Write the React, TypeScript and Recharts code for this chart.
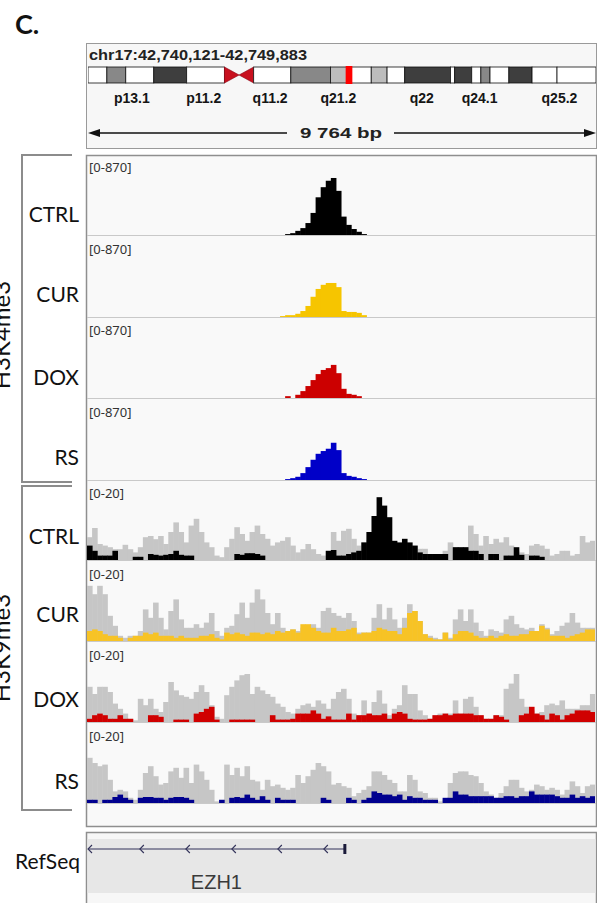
import React from 'react';
import { BarChart, Bar, XAxis, YAxis } from 'recharts';

// ---- locus ----
const locusLabel = 'chr17:42,740,121-42,749,883';
const regionStart = 42740121;
const regionEnd = 42749883;
const spanLabel = '9 764 bp';

// ---- chr17 ideogram (band sizes in Mb) ----
const bandSizes = [3.1, 3.1, 4.6, 5.4, 6.2, 2.4, 2.4, 6.1, 6.5, 2.8, 3.9, 2.6, 2.9, 7.5, 0.7, 2.8, 1.5, 1.5, 3.1, 3.8, 4.1, 6.4];
const bandStains = ['gneg', 'gpos50', 'gneg', 'gpos75', 'gneg', 'acenP', 'acenQ', 'gneg', 'gpos50', 'gpos25', 'gneg', 'gpos25', 'gneg', 'gpos75', 'gneg', 'gpos75', 'gneg', 'gpos50', 'gneg', 'gpos75', 'gneg', 'gneg'];
const bandLabels = ['p13.1', 'p11.2', 'q11.2', 'q21.2', 'q22', 'q24.1', 'q25.2'];
const bandLabelMb = [7.2, 19.0, 29.9, 41.1, 54.8, 64.3, 77.4];
const markerMb = [42.3, 43.4];

// ---- gene ----
const geneName = 'EZH1';
const geneStart = 42700275;
const geneEnd = 42745076;

// ---- track labels ----
const samples = ['CTRL', 'CUR', 'DOX', 'RS'];
const marks = ['H3K4me3', 'H3K9me3'];
const k4Range = '[0-870]';
const k9Range = '[0-20]';

// ---- H3K4me3 coverage, 100 bins across the window ----
const k4Ctrl = [
  0, 0, 0, 0, 0, 0, 0, 0, 0, 0,
  0, 0, 0, 0, 0, 0, 0, 0, 0, 0,
  0, 0, 0, 0, 0, 0, 0, 0, 0, 0,
  0, 0, 0, 0, 0, 0, 0, 0, 0, 10,
  20, 45, 75, 130, 240, 410, 520, 590, 620, 480,
  200, 110, 65, 35, 10, 0, 0, 0, 0, 0,
  0, 0, 0, 0, 0, 0, 0, 0, 0, 0,
  0, 0, 0, 0, 0, 0, 0, 0, 0, 0,
  0, 0, 0, 0, 0, 0, 0, 0, 0, 0,
  0, 0, 0, 0, 0, 0, 0, 0, 0, 0,
];
const k4Cur = [
  0, 0, 0, 0, 0, 0, 0, 0, 0, 0,
  0, 0, 0, 0, 0, 0, 0, 0, 0, 0,
  0, 0, 0, 0, 0, 0, 0, 0, 0, 0,
  0, 0, 0, 0, 0, 0, 0, 0, 10, 20,
  20, 35, 65, 120, 220, 305, 350, 370, 370, 325,
  65, 55, 55, 45, 20, 0, 0, 0, 0, 0,
  0, 0, 0, 0, 0, 0, 0, 0, 0, 0,
  0, 0, 0, 0, 0, 0, 0, 0, 0, 0,
  0, 0, 0, 0, 0, 0, 0, 0, 0, 0,
  0, 0, 0, 0, 0, 0, 0, 0, 0, 0,
];
const k4Dox = [
  0, 0, 0, 0, 0, 0, 0, 0, 0, 0,
  0, 0, 0, 0, 0, 0, 0, 0, 0, 0,
  0, 0, 0, 0, 0, 0, 0, 0, 0, 0,
  0, 0, 0, 0, 0, 0, 0, 0, 0, 20,
  0, 35, 75, 130, 195, 260, 305, 325, 360, 270,
  100, 45, 35, 20, 0, 0, 0, 0, 0, 0,
  0, 0, 0, 0, 0, 0, 0, 0, 0, 0,
  0, 0, 0, 0, 0, 0, 0, 0, 0, 0,
  0, 0, 0, 0, 0, 0, 0, 0, 0, 0,
  0, 0, 0, 0, 0, 0, 0, 0, 0, 0,
];
const k4Rs = [
  0, 0, 0, 0, 0, 0, 0, 0, 0, 0,
  0, 0, 0, 0, 0, 0, 0, 0, 0, 0,
  0, 0, 0, 0, 0, 0, 0, 0, 0, 0,
  0, 0, 0, 0, 0, 0, 0, 0, 0, 10,
  20, 35, 75, 140, 220, 285, 315, 340, 405, 325,
  75, 45, 35, 20, 10, 0, 0, 0, 0, 0,
  0, 0, 0, 0, 0, 0, 0, 0, 0, 0,
  0, 0, 0, 0, 0, 0, 0, 0, 0, 0,
  0, 0, 0, 0, 0, 0, 0, 0, 0, 0,
  0, 0, 0, 0, 0, 0, 0, 0, 0, 0,
];

// ---- H3K9me3 coverage (grey = overlaid reference, colour = sample) ----
const k9CtrlGrey = [
  5.7, 8, 4, 3.6, 3.2, 2.7, 2.7, 3.8, 2.7, 1.9,
  3.2, 5.7, 6, 5.2, 6, 4, 7, 9.4, 7, 4.4,
  8.6, 10.3, 7, 4.4, 3.2, 1.1, 0.7, 3.2, 5.3, 8.2,
  6.5, 4.8, 7, 8.6, 6.5, 5.3, 3.6, 4.4, 4.8, 5.7,
  3.6, 1.9, 2.7, 4, 2.7, 1.5, 1.1, 2.3, 7, 4.8,
  7.3, 7.8, 5.3, 3.6, 4.4, 5, 6, 5, 4, 3,
  3, 3, 3, 3, 3.6, 2.8, 2.8, 1.5, 1.1, 1.5,
  2.3, 4.4, 3.2, 3.2, 3.2, 8.6, 6.5, 3.6, 6, 4,
  5.3, 4.4, 5.7, 3.6, 2.3, 1.9, 1.5, 3.6, 4, 3.6,
  2.8, 1.1, 1.5, 2.3, 2.3, 1.1, 1.5, 6, 4.4, 4.8,
];
const k9Ctrl = [
  3.6, 2.3, 1.1, 1.1, 1.1, 2.3, 0, 0, 0, 0.8,
  0.8, 0, 1.5, 1.3, 1.1, 1.3, 1.5, 2.3, 1.3, 1.1,
  1.1, 0, 0, 0, 0, 0, 0, 0, 0, 1.5,
  1.3, 1.7, 1.7, 1.5, 1.1, 0, 0, 0, 0, 0,
  0, 0, 0, 0, 0, 0, 0, 2.3, 2.5, 1.1,
  1.1, 1.5, 1.9, 2.3, 4.4, 7, 11, 15.7, 13.6, 10.7,
  4.8, 4.4, 5.3, 4.4, 3.6, 1.9, 1.5, 1.5, 1.5, 1.5,
  1.5, 0, 3.2, 3.2, 3.2, 2.3, 2.3, 1.5, 0, 1.5,
  1.5, 0, 1.1, 1.1, 3.2, 1.3, 0, 1.1, 1.1, 0.8,
  0, 0, 0, 0, 0, 0, 0, 0, 0, 0,
];
const k9CurGrey = [
  13.8, 11.7, 13.8, 11.7, 6.3, 3.8, 1.3, 0.8, 1.3, 1.3,
  2.5, 7.9, 5.8, 9.6, 5.8, 2.9, 7.5, 10.4, 5.4, 3.3,
  3.3, 4.2, 3.3, 4.6, 7, 2.5, 1.3, 3.3, 3.8, 6.7,
  9.6, 5.8, 9.6, 12.9, 10.4, 7, 4.2, 7, 3.3, 2.5,
  2.9, 2.5, 3.3, 3.5, 4.2, 3.3, 7.5, 8.3, 7, 6.3,
  5.8, 7, 5, 2.1, 2.1, 2.1, 5.8, 9.2, 5.4, 8.3,
  5.4, 3.3, 5.8, 9.2, 7.5, 5, 1.7, 1.3, 0.8, 0.4,
  2.1, 0.8, 5.4, 7.9, 5, 7.9, 4.6, 2.5, 1.3, 2.9,
  2.5, 2.1, 5.4, 6.3, 4.2, 3.3, 2.9, 3.3, 2.5, 4.2,
  3.3, 1.7, 2.5, 3.8, 4.6, 7, 4.6, 3.3, 3.3, 3.3,
];
const k9Cur = [
  2.5, 2.9, 2.5, 1.7, 1.3, 1.3, 0.8, 0, 0.8, 1.3,
  1.3, 2.1, 1.7, 2.1, 1.3, 1.3, 1.3, 0.8, 1.3, 0.8,
  0.8, 0.8, 1.3, 1.3, 1.7, 0.8, 0.4, 2.1, 1.7, 2.1,
  1.7, 1.3, 2.1, 2.1, 1.7, 2.1, 1.7, 2.5, 2.1, 2.5,
  2.9, 2.1, 4.2, 4.2, 3.3, 2.5, 2.1, 2.1, 3.3, 2.5,
  2.5, 2.9, 3.3, 1.7, 2.1, 2.1, 2.5, 3.3, 2.9, 2.5,
  2.5, 1.7, 3.3, 7, 7.5, 5, 1.7, 0.8, 0.4, 0.4,
  2.1, 0.4, 1.7, 2.5, 2.5, 2.1, 1.3, 0.8, 0.8, 1.3,
  0.8, 1.3, 1.7, 1.3, 1.3, 1.7, 1.7, 2.5, 2.5, 3.8,
  2.9, 1.3, 1.3, 1.3, 0.8, 1.3, 1.7, 2.1, 2.9, 2.9,
];
const k9DoxGrey = [
  8.8, 7, 8.8, 8.8, 7.5, 4.6, 3.3, 2.1, 0.8, 0.4,
  5.8, 4.2, 5.8, 3.3, 2.5, 5, 10, 7.9, 6.7, 6.3,
  5.8, 7.5, 9.2, 7.5, 4.2, 1.3, 0.8, 6.7, 8.8, 10.4,
  11.7, 12, 7, 8.8, 7.9, 7, 6.3, 4.6, 3.8, 2.5,
  2.1, 3.3, 4.2, 4.6, 3.8, 5.4, 4.6, 3.3, 5.8, 7.5,
  8.3, 5.8, 2.1, 1.7, 5.4, 2.1, 5, 7.9, 4.6, 1.7,
  3.3, 4.2, 9.2, 7, 7, 2.9, 1.7, 0.8, 1.7, 2.1,
  2.1, 2.1, 5.4, 2.1, 5.8, 6.3, 3.8, 1.7, 0.8, 0.8,
  1.7, 1.7, 8.3, 9.6, 12, 5.8, 3.8, 2.9, 2.1, 2.5,
  4.2, 4.6, 4.2, 5.4, 3.3, 3.3, 3.3, 4.2, 4.2, 7,
];
const k9Dox = [
  0.8, 1.7, 2.1, 1.7, 0.8, 0.8, 1.7, 0.8, 0.8, 0,
  0, 0, 1.7, 1.7, 1.3, 0, 0, 0.6, 0.6, 0.6,
  0, 2.1, 2.5, 3.3, 3.8, 0.6, 0, 0, 0.6, 0.6,
  0.6, 0.6, 0.6, 0, 0, 0, 1.7, 0.6, 0.6, 0.6,
  0.8, 2.1, 2.1, 2.1, 2.9, 2.1, 0.8, 1.4, 0.6, 0.6,
  0.6, 2.1, 0.6, 1.7, 1.7, 2.1, 1.7, 1.7, 2.1, 0.8,
  2.1, 2.5, 2.1, 0.8, 0.6, 0.6, 0.6, 0.8, 1.7, 1.7,
  2.1, 1.7, 2.1, 2.1, 2.1, 2.1, 1.7, 1.7, 0.8, 0.8,
  1.7, 1.3, 0.6, 0, 0, 1.7, 2.1, 3.8, 2.1, 1.7,
  0.6, 2.1, 1.7, 0.6, 1.7, 2.1, 2.9, 2.9, 2.9, 2.5,
];
const k9RsGrey = [
  11.3, 10, 9.2, 9.6, 5.8, 2.9, 3.3, 2.9, 1.3, 0.8,
  3.3, 7.5, 9.2, 6.7, 4.6, 5, 7.9, 8.8, 6.3, 8.8,
  5, 9.6, 7.9, 5.8, 3.3, 0.4, 0.8, 9.6, 7, 8.8,
  6.7, 9.2, 5.8, 5.4, 3.3, 5.8, 4.2, 4.6, 3.8, 3.3,
  3.8, 7, 5, 6.7, 8.3, 10, 9.2, 7.9, 4.6, 5,
  4.2, 3.8, 1.7, 2.5, 3.3, 4.2, 7.9, 7.9, 7, 5.8,
  5, 2.9, 2.9, 7, 5.8, 2.9, 2.5, 1.3, 1.3, 0.4,
  0.8, 5, 7.5, 7.9, 7.9, 7, 6.7, 5, 2.9, 2.1,
  1.3, 2.5, 4.2, 5.8, 5.8, 3.8, 2.9, 3.3, 4.6, 4.2,
  3.3, 3.8, 3.3, 2.1, 3.3, 5.4, 4.2, 2.5, 4.2, 4.6,
];
const k9Rs = [
  0.8, 0.8, 0, 0.8, 0.8, 1.5, 2.1, 1.3, 0.8, 0,
  1.3, 1.5, 1.5, 1.3, 1.3, 0.8, 1.3, 1.5, 1.5, 1.3,
  0.8, 0, 0, 0, 0, 0, 0.8, 0, 1.3, 1.5,
  1.3, 2.1, 1.3, 0.8, 1.7, 0.8, 0, 1.3, 0.8, 0.8,
  0.8, 0, 0, 0, 0, 0, 1.3, 0.8, 0, 0,
  0, 1.3, 0.8, 0, 0.8, 1.3, 2.9, 2.5, 2.1, 2.1,
  1.7, 2.1, 0.8, 1.7, 1.3, 1.3, 0.8, 0.8, 0.8, 0,
  1.3, 1.3, 2.9, 2.1, 2.1, 1.7, 1.7, 1.7, 1.7, 1.7,
  1.3, 1.3, 1.7, 1.7, 1.3, 1.7, 1.7, 2.9, 2.1, 2.1,
  2.1, 2.1, 1.7, 1.3, 1.3, 2.1, 1.3, 1.7, 1.3, 1.7,
];

const k4Series = [k4Ctrl, k4Cur, k4Dox, k4Rs];
const k9Series = [k9Ctrl, k9Cur, k9Dox, k9Rs];
const k9Greys = [k9CtrlGrey, k9CurGrey, k9DoxGrey, k9RsGrey];

// ---- layout / styling ----
const PLOT_X = 87;
const PLOT_W = 508;
const TRACK_H = 80;
const k4Tops = [155, 237, 318, 400];
const k9Tops = [480, 561, 642, 723];
const k4LabelY = [222, 302, 385, 465];
const k9LabelY = [544, 622, 707, 789];
const k4Colors = ['#000000', '#f6c500', '#cc0000', '#0000c8'];
const k9Colors = ['#000000', '#f7c325', '#d00000', '#00008f'];
const GREY = '#c6c6c6';
const LABEL_FONT = 'Lato, "Noto Sans", sans-serif';
const IGV_FONT = '"Noto Sans", "Open Sans", sans-serif';
const BOLD_FONT = '"Liberation Sans", Arial, sans-serif';

const stainColor: Record<string, string> = {
  gneg: '#ffffff',
  gpos25: '#bdbdbd',
  gpos50: '#888888',
  gpos75: '#3e3e3e',
  acenP: '#c8101e',
  acenQ: '#c8101e',
};

const isNum = (v: any) => typeof v === 'number' && isFinite(v);

// histogram bin: a touch wider than its band so neighbours don't leave hairline seams
const BinBar = (props: any) => {
  const { x, y, width, height, fill } = props;
  if (![x, y, width, height].every(isNum) || width <= 0 || height <= 0) return <g />;
  return <rect x={x} y={y} width={width + 0.6} height={height} fill={fill} />;
};

const Track = ({ top, fg, bg, color, max }: { top: number; fg: number[]; bg?: number[]; color: string; max: number }) => {
  const rows = fg.map((v, i) => ({ bin: i, fg: v, bg: bg ? bg[i] : 0 }));
  return (
    <div style={{ position: 'absolute', left: PLOT_X, top }}>
      <BarChart
        width={PLOT_W}
        height={TRACK_H}
        data={rows}
        margin={{ top: 0, right: 0, bottom: 0, left: 0 }}
        barCategoryGap={0}
        barGap={0}
      >
        <XAxis xAxisId="bg" dataKey="bin" hide />
        <XAxis xAxisId="fg" dataKey="bin" hide />
        <YAxis hide domain={[0, max]} allowDataOverflow />
        {bg && <Bar xAxisId="bg" dataKey="bg" fill={GREY} shape={BinBar} isAnimationActive={false} />}
        <Bar xAxisId="fg" dataKey="fg" fill={color} shape={BinBar} isAnimationActive={false} />
      </BarChart>
    </div>
  );
};

const chromLen = bandSizes.reduce((a, b) => a + b, 0);

const BandShape = (stain: string) => (props: any) => {
  const { x, y, width, height, fill } = props;
  if (![x, y, width, height].every(isNum) || width <= 0) return <g />;
  if (stain === 'acenP') {
    return <polygon points={`${x},${y} ${x + width},${y + height / 2} ${x},${y + height}`} fill={fill} stroke="#8a0010" strokeWidth={0.6} />;
  }
  if (stain === 'acenQ') {
    return <polygon points={`${x + width},${y} ${x},${y + height / 2} ${x + width},${y + height}`} fill={fill} stroke="#8a0010" strokeWidth={0.6} />;
  }
  return <rect x={x} y={y} width={width} height={height} fill={fill} stroke="#111" strokeWidth={0.8} />;
};

const Ideogram = () => {
  const row: Record<string, any> = { name: 'chr17' };
  bandSizes.forEach((s, i) => { row[`b${i}`] = s; });
  return (
    <>
      <div style={{ position: 'absolute', left: 88, top: 65 }}>
        <BarChart layout="vertical" width={PLOT_W} height={44} data={[row]} margin={{ top: 0, right: 0, bottom: 0, left: 0 }} barCategoryGap={0}>
          <XAxis
            type="number"
            domain={[0, chromLen]}
            ticks={bandLabelMb}
            interval={0}
            tickLine={false}
            axisLine={false}
            height={24}
            tick={{ fontSize: 14, fontWeight: 'bold', fill: '#151515', fontFamily: BOLD_FONT }}
            tickFormatter={(v: number) => bandLabels[bandLabelMb.indexOf(v)] ?? ''}
          />
          <YAxis type="category" dataKey="name" hide />
          {bandSizes.map((_, i) => (
            <Bar
              key={i}
              dataKey={`b${i}`}
              stackId="chr"
              barSize={16}
              fill={stainColor[bandStains[i]]}
              shape={BandShape(bandStains[i])}
              isAnimationActive={false}
            />
          ))}
        </BarChart>
      </div>
      {/* current-view marker, same scale, drawn over the bands */}
      <div style={{ position: 'absolute', left: 88, top: 65 }}>
        <BarChart layout="vertical" width={PLOT_W} height={44} data={[{ name: 'chr17', view: markerMb }]} margin={{ top: 0, right: 0, bottom: 24, left: 0 }} barCategoryGap={0}>
          <XAxis type="number" domain={[0, chromLen]} hide />
          <YAxis type="category" dataKey="name" hide />
          <Bar dataKey="view" barSize={20} fill="#ff0000" isAnimationActive={false} />
        </BarChart>
      </div>
    </>
  );
};

const GeneShape = (props: any) => {
  const { x, y, width, height } = props;
  if (![x, y, width, height].every(isNum)) return <g />;
  const x0 = x + 1;
  const x1 = x + width;
  const cy = y + height / 2;
  const chevrons: number[] = [];
  for (let c = x1 - 21; c > x0 + 20; c -= 46) chevrons.push(c);
  chevrons.push(x0);
  const stroke = '#33335a';
  return (
    <g>
      <line x1={x0} y1={cy} x2={x1} y2={cy} stroke={stroke} strokeWidth={1.2} />
      {chevrons.map((c, i) => (
        <polyline key={i} points={`${c + 4},${cy - 4} ${c},${cy} ${c + 4},${cy + 4}`} fill="none" stroke={stroke} strokeWidth={1.1} />
      ))}
      <rect x={x1 - 1.5} y={cy - 5} width={3} height={10} fill="#1a1a3a" />
      <text x={(x0 + x1) / 2} y={cy + 40} textAnchor="middle" fontSize={20} fill="#3a3a3a" fontFamily={BOLD_FONT}>
        {geneName}
      </text>
    </g>
  );
};

const GeneTrack = () => {
  // only the part of the gene inside the viewed window is drawn
  const visible = [Math.max(geneStart, regionStart), Math.min(geneEnd, regionEnd)];
  return (
    <div style={{ position: 'absolute', left: PLOT_X, top: 839 }}>
      <BarChart layout="vertical" width={PLOT_W} height={60} data={[{ name: geneName, span: visible }]} margin={{ top: 0, right: 0, bottom: 40, left: 0 }}>
        <XAxis type="number" domain={[regionStart, regionEnd]} hide />
        <YAxis type="category" dataKey="name" hide />
        <Bar dataKey="span" barSize={10} shape={GeneShape} isAnimationActive={false} />
      </BarChart>
    </div>
  );
};

export default function App() {
  const bracket = (y0: number, y1: number) => (
    <path d={`M72,${y0} H22 V${y1} H72`} fill="none" stroke="#8c8c8c" strokeWidth={2} />
  );
  return (
    <div style={{ position: 'absolute', left: 0, top: 0, width: 597, height: 903, overflow: 'hidden', background: '#ffffff' }}>
      <svg width={597} height={903} style={{ position: 'absolute', left: 0, top: 0 }}>
        <text x={15} y={34} fontSize={27} fontWeight="bold" fontFamily={LABEL_FONT} fill="#111">C.</text>

        {/* header: locus, ideogram, ruler */}
        <rect x={86.5} y={43.5} width={510} height={105} fill="#f7f7f7" stroke="#9a9a9a" />
        <text x={89} y={60} fontSize={14} fontWeight="bold" fontFamily={BOLD_FONT} fill="#222" textLength={218} lengthAdjust="spacingAndGlyphs">
          {locusLabel}
        </text>
        <line x1={98} y1={133} x2={287} y2={133} stroke="#111" strokeWidth={1.3} />
        <line x1={394} y1={133} x2={586} y2={133} stroke="#111" strokeWidth={1.3} />
        <polygon points="88,133 100,129 100,137" fill="#111" />
        <polygon points="596,133 584,129 584,137" fill="#111" />
        <text x={341} y={138} textAnchor="middle" fontSize={15} fontWeight="bold" fontFamily={BOLD_FONT} fill="#222" textLength={82} lengthAdjust="spacingAndGlyphs">
          {spanLabel}
        </text>

        {/* data panel */}
        <rect x={86.5} y={155.5} width={510} height={671} fill="#f9f9f9" stroke="#8f8f8f" strokeWidth={1.5} />
        {[...k4Tops, ...k9Tops].map((t, i) => (
          <line key={i} x1={87} x2={596} y1={t + TRACK_H + 0.5} y2={t + TRACK_H + 0.5} stroke="#c9c9c9" strokeWidth={1} />
        ))}

        {/* refseq panel */}
        <rect x={86.5} y={832.5} width={510} height={90} fill="#f7f7f7" stroke="#8f8f8f" strokeWidth={1.5} />
        <rect x={87.5} y={839} width={508} height={54} fill="#e7e7e7" />

        {/* brackets and side labels */}
        {bracket(155, 482)}
        {bracket(486, 810)}
        <text transform="translate(10,335) rotate(-90)" textAnchor="middle" fontSize={24} fontFamily={LABEL_FONT} fill="#111">{marks[0]}</text>
        <text transform="translate(10,648) rotate(-90)" textAnchor="middle" fontSize={24} fontFamily={LABEL_FONT} fill="#111">{marks[1]}</text>
        {samples.map((s, i) => (
          <text key={`a${i}`} x={79} y={k4LabelY[i]} textAnchor="end" fontSize={21} fontFamily={LABEL_FONT} fill="#111">{s}</text>
        ))}
        {samples.map((s, i) => (
          <text key={`b${i}`} x={79} y={k9LabelY[i]} textAnchor="end" fontSize={21} fontFamily={LABEL_FONT} fill="#111">{s}</text>
        ))}
        <text x={80} y={869} textAnchor="end" fontSize={21} fontFamily={LABEL_FONT} fill="#111">RefSeq</text>
      </svg>

      <Ideogram />

      {k4Series.map((s, i) => (
        <Track key={`k4${i}`} top={k4Tops[i]} fg={s} color={k4Colors[i]} max={870} />
      ))}
      {k9Series.map((s, i) => (
        <Track key={`k9${i}`} top={k9Tops[i]} fg={s} bg={k9Greys[i]} color={k9Colors[i]} max={20} />
      ))}

      <GeneTrack />

      <svg width={597} height={903} style={{ position: 'absolute', left: 0, top: 0, pointerEvents: 'none' }}>
        {k4Tops.map((t, i) => (
          <text key={`r4${i}`} x={89} y={t + 17} fontSize={13} fontFamily={IGV_FONT} fill="#333">{k4Range}</text>
        ))}
        {k9Tops.map((t, i) => (
          <text key={`r9${i}`} x={89} y={t + 18} fontSize={13} fontFamily={IGV_FONT} fill="#333">{k9Range}</text>
        ))}
      </svg>
    </div>
  );
}
